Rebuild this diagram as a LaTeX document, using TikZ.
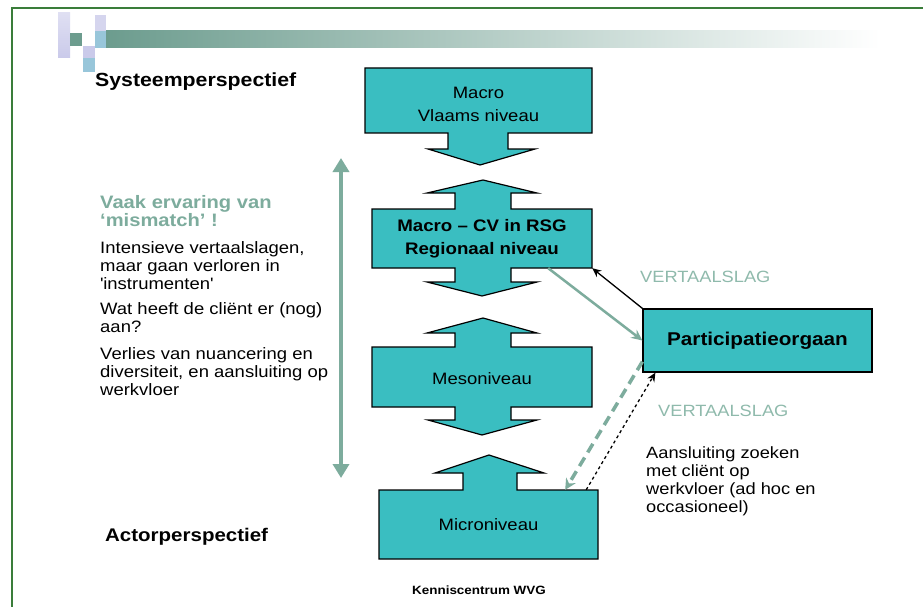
\documentclass[tikz,border=0pt]{standalone}
\usepackage{fontspec}
\setmainfont[FakeStretch=1.12]{Liberation Sans}
\usetikzlibrary{arrows.meta,calc}
\definecolor{boxteal}{RGB}{58,190,193}
\definecolor{sage}{RGB}{125,172,157}
\definecolor{sagelight}{RGB}{143,186,172}
\definecolor{framegreen}{RGB}{58,125,58}
\definecolor{lavender}{RGB}{202,202,234}
\definecolor{skyblue}{RGB}{152,198,218}
\definecolor{bardark}{RGB}{108,156,142}
\begin{document}
\begin{tikzpicture}[x=1pt,y=-1pt,
  level/.style={fill=boxteal, draw=black, line width=1.2pt, line join=miter},
  boxtext/.style={inner sep=0pt, align=center, font=\fontsize{16.5}{23}\selectfont},
  lbl/.style={inner sep=0pt, anchor=north west, align=left, font=\fontsize{16.5}{18}\selectfont},
  head/.style={inner sep=0pt, anchor=north west, font=\bfseries\fontsize{19}{22}\selectfont},
  slag/.style={inner sep=0pt, anchor=north west, text=sagelight, font=\fontsize{16.3}{18}\selectfont}]
\useasboundingbox (0,0) rectangle (923,607);
\fill[white] (0,0) rectangle (923,607);

% slide frame
\draw[framegreen, line width=2pt] (12,607) -- (12,8) -- (923,8);

% title banner
\fill[left color=bardark, right color=white] (105,31) rectangle (880,48);
\fill[top color=lavender!60, bottom color=lavender] (58,13) rectangle (70,58);
\fill[bardark] (70,33) rectangle (82,46);
\fill[lavender] (83,46) rectangle (95,58);
\fill[lavender!80] (95,15) rectangle (106,31);
\fill[skyblue] (95,31) rectangle (106,48);
\fill[skyblue] (83,58) rectangle (95,72);

% level shapes (boxes with block arrows)
\path[level] (365,68) -- (592,68) -- (592,133) -- (508,133) -- (508,149) -- (535,149)
  -- (480,165) -- (428,149) -- (448,149) -- (448,133) -- (365,133) -- cycle;
\path[level] (372,209) -- (455,209) -- (455,193) -- (427,193) -- (483,180) -- (537,193)
  -- (511,193) -- (511,209) -- (592,209) -- (592,268) -- (511,268) -- (511,282)
  -- (537,282) -- (482,296) -- (427,282) -- (455,282) -- (455,268) -- (372,268) -- cycle;
\path[level] (372,347) -- (455,347) -- (455,333) -- (427,333) -- (483,318) -- (537,333)
  -- (511,333) -- (511,347) -- (592,347) -- (592,407) -- (511,407) -- (511,420)
  -- (537,420) -- (482,435) -- (428,420) -- (455,420) -- (455,407) -- (372,407) -- cycle;
\path[level] (379,490) -- (463,490) -- (463,473) -- (435,473) -- (489,455) -- (544,473)
  -- (517,473) -- (517,490) -- (598,490) -- (598,559) -- (379,559) -- cycle;

\node[boxtext, minimum width=227pt, minimum height=65pt] (b1) at (478.5,104) {Macro\\Vlaams niveau};
\node[boxtext, minimum width=220pt, minimum height=59pt, font=\bfseries\fontsize{16.7}{23}\selectfont] (b2) at (482,238.5) {Macro -- CV in RSG\\Regionaal niveau};
\node[boxtext, minimum width=220pt, minimum height=60pt] (b3) at (482,379) {Mesoniveau};
\node[boxtext, minimum width=219pt, minimum height=69pt] (b4) at (488.5,524.5) {Microniveau};

\node[draw=black, line width=1.2pt, fill=boxteal, minimum width=229pt, minimum height=63pt,
  font=\bfseries\fontsize{18.5}{22}\selectfont] (po) at (757.5,340.5) {Participatieorgaan};

% connectors
\draw[black, line width=1.3pt, -{Stealth[length=9pt,width=8pt]}] (po.north west) -- (b2.south east);
\draw[sage, line width=2.5pt, -{Stealth[length=11pt,width=10pt]}] ([xshift=-44pt]b2.south east) -- (po.west);
\draw[sage, line width=3.5pt, dash pattern=on 10pt off 6pt, -{Stealth[length=11pt,width=11pt]}]
  ([yshift=11pt]po.south west) -- ([xshift=-33pt]b4.north east);
\draw[black, line width=1.3pt, dash pattern=on 3pt off 3pt, -{Stealth[length=9pt,width=8pt]}]
  ([xshift=-12pt]b4.north east) -- ([xshift=13pt]po.south west);

% perspective axis
\coordinate (axtop) at (341,158);
\coordinate (axbot) at (341,478);
\draw[sage, line width=4pt, {Triangle[length=14pt,width=16pt]}-{Triangle[length=14pt,width=16pt]}] (axtop) -- (axbot);

% texts
\node[head] (sys) at (95,72.5) {Systeemperspectief};
\node[head, font=\bfseries\fontsize{18.3}{22}\selectfont] (act) at (105,528) {Actorperspectief};
\node[head, align=left, text=sage, font=\bfseries\fontsize{18}{18}\selectfont] (mis) at (100,195) {Vaak ervaring van\\‘mismatch’ !};
\node[lbl] (p1) at (100,241) {Intensieve vertaalslagen,\\maar gaan verloren in\\\textquotesingle instrumenten\textquotesingle};
\node[lbl] (p2) at (100,302) {Wat heeft de cliënt er (nog)\\aan?};
\node[lbl] (p3) at (100,347) {Verlies van nuancering en\\diversiteit, en aansluiting op\\werkvloer};
\node[slag] (vs1) at (640,271) {VERTAALSLAG};
\node[slag] (vs2) at (658,405) {VERTAALSLAG};
\node[lbl, font=\fontsize{16.3}{18.3}\selectfont] (aans) at (646,446) {Aansluiting zoeken\\met cliënt op\\werkvloer (ad hoc en\\occasioneel)};
\node[inner sep=0pt, font=\bfseries\fontsize{12}{12}\selectfont] (kc) at (479,590) {Kenniscentrum WVG};
\end{tikzpicture}
\end{document}
